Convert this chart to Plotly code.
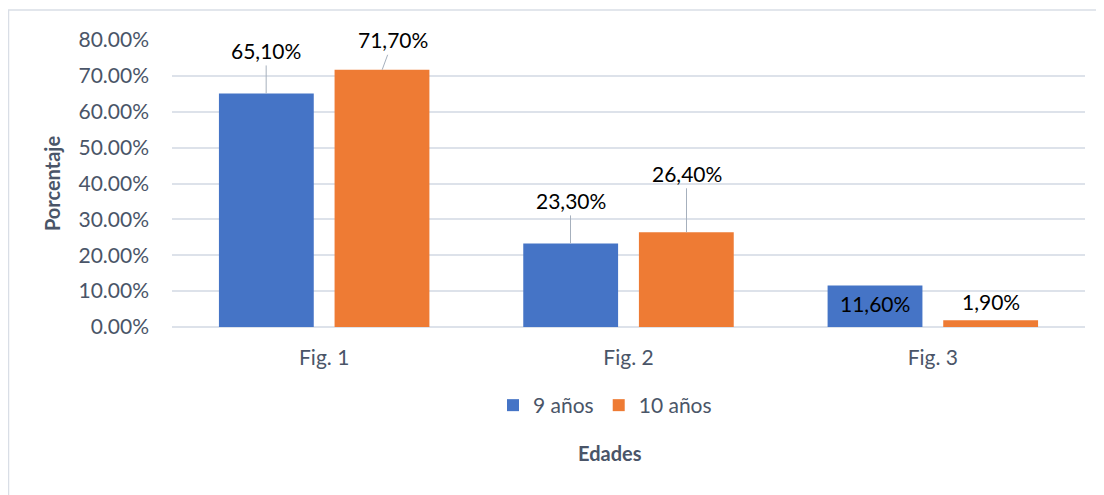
import plotly.graph_objects as go

categories = ["Fig. 1", "Fig. 2", "Fig. 3"]
series_names = ["9 años", "10 años"]
values_9 = [0.651, 0.233, 0.116]
values_10 = [0.717, 0.264, 0.019]
labels_9 = ["65,10%", "23,30%", "11,60%"]
labels_10 = ["71,70%", "26,40%", "1,90%"]
y_ticks = [0, 0.1, 0.2, 0.3, 0.4, 0.5, 0.6, 0.7, 0.8]

FONT = "Lato, 'Open Sans', sans-serif"
AXIS_COLOR = "#4a5568"
FS = 20
FL = 21

# figure geometry (page has an 8px body margin)
W, H = 1096, 487
L, R, T, B = 164, 19, 32, 168
plot_w = W - L - R
plot_h = H - T - B

fig = go.Figure()
fig.add_trace(go.Bar(name=series_names[0], x=categories, y=values_9,
                     marker=dict(color="#4574c6", line=dict(width=0))))
fig.add_trace(go.Bar(name=series_names[1], x=categories, y=values_10,
                     marker=dict(color="#ee7b34", line=dict(width=0))))

offs_9 = [(0, -43), (0, -43), None]
offs_10 = [(11, -30), (0, -59), None]

ann = []
for vals, labs, offs, d in [(values_9, labels_9, offs_9, -1), (values_10, labels_10, offs_10, 1)]:
    for i, (v, t, o) in enumerate(zip(vals, labs, offs)):
        if o is None:
            continue
        ann.append(dict(x=i, y=v, xref="x", yref="y", text=t, showarrow=True,
                        arrowhead=0, arrowwidth=1, arrowcolor="#a6b0bd",
                        ax=o[0], ay=o[1], xshift=d * 58,
                        font=dict(family=FONT, size=FL, color="#000000"),
                        standoff=0, startstandoff=0, borderpad=2))
ann.append(dict(x=2, y=values_9[2], xref="x", yref="y", text=labels_9[2], showarrow=False,
                xshift=-58, yshift=-4, yanchor="top",
                font=dict(family=FONT, size=FL, color="#000000")))
ann.append(dict(x=2, y=values_10[2], xref="x", yref="y", text=labels_10[2], showarrow=False,
                xshift=58, yshift=4, yanchor="bottom",
                font=dict(family=FONT, size=FL, color="#000000")))
ann.append(dict(text="<b>Edades</b>", xref="paper", yref="paper", showarrow=False,
                x=(602 - L) / plot_w, y=(T + plot_h - 445) / plot_h,
                xanchor="center", yanchor="middle",
                font=dict(family=FONT, size=FS, color=AXIS_COLOR)))

fig.update_layout(
    width=W, height=H,
    margin=dict(l=L, r=R, t=T, b=B),
    paper_bgcolor="white", plot_bgcolor="white",
    barmode="group", bargap=0.24, bargroupgap=0.18,
    font=dict(family=FONT, size=FS, color=AXIS_COLOR),
    showlegend=True,
    legend=dict(orientation="h", x=(597 - L) / plot_w, xanchor="center",
                y=(T + plot_h - 377) / plot_h, yanchor="top",
                font=dict(family=FONT, size=FL, color=AXIS_COLOR), itemwidth=30,
                traceorder="normal"),
    annotations=ann,
)

fig.update_xaxes(showgrid=False, showline=False, ticks="", tickfont=dict(size=FL, color=AXIS_COLOR),
                 ticklabelstandoff=16)
fig.update_yaxes(range=[0, 0.8], tickvals=y_ticks, tickformat=".2%",
                 showgrid=True, gridcolor="#dde2ea", gridwidth=2, zeroline=True,
                 zerolinecolor="#dde2ea", zerolinewidth=2, showline=False,
                 tickfont=dict(size=FL, color=AXIS_COLOR), ticklabelstandoff=22,
                 title=dict(text="<b>Porcentaje</b>", font=dict(size=FS, color=AXIS_COLOR), standoff=12))

fig.add_shape(type="rect", xref="paper", yref="paper",
              x0=(0.5 - L) / plot_w, x1=(W + 10 - L) / plot_w,
              y0=(T + plot_h - H - 10) / plot_h, y1=(T + plot_h - 2) / plot_h,
              line=dict(color="#d9dee6", width=1.5), fillcolor="rgba(0,0,0,0)", layer="below")

fig.write_html("out.html")
